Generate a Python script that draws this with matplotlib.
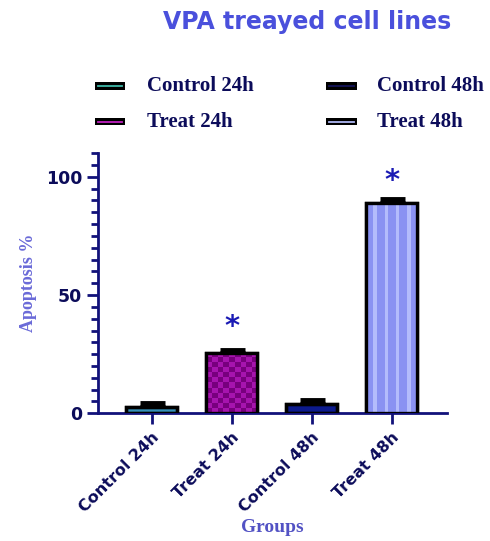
import numpy as np
import matplotlib
matplotlib.use("Agg")
import matplotlib.pyplot as plt
from matplotlib.patches import Rectangle
from matplotlib.lines import Line2D
from matplotlib.colors import ListedColormap

groups = ["Control 24h", "Treat 24h", "Control 48h", "Treat 48h"]
means = [2.8, 25.5, 4.0, 89.0]
errs = [1.6, 1.2, 1.6, 1.4]
stars = ["", "*", "", "*"]
star_y = [0, 36.5, 0, 98]

NAVY = "#12127a"
TXT = "#0c0c5a"
fills = ["#3590b8", "#a010a8", "#0c1a8c", "#8a92f2"]
legend_cols = ["#40b8a8", "#c020c0", "#14145a", "#b0b8f4"]

fig = plt.figure(figsize=(4.9, 5.41), dpi=100)
ax = fig.add_axes([0.2, 0.236, 0.712, 0.481])

x = np.arange(len(groups))
bw = 0.64
bars = ax.bar(x, means, width=bw, color=fills, edgecolor="black",
              linewidth=2.4, zorder=3)

# checkerboard on Treat 24h
b = bars[1]
x0, y0, w, h = b.get_x(), b.get_y(), b.get_width(), b.get_height()
chk = np.indices((12, 9)).sum(axis=0) % 2
im = ax.imshow(chk, cmap=ListedColormap(["#a614ae", "#78007e"]),
               extent=(x0, x0 + w, y0, y0 + h), aspect="auto",
               interpolation="nearest", zorder=3.5)
im.set_clip_path(b)

# vertical stripes on Treat 48h
b = bars[3]
x0, y0, w, h = b.get_x(), b.get_y(), b.get_width(), b.get_height()
stripes = np.array([[0, 0, 1, 0, 0, 1, 0, 0, 1, 0, 0, 1, 0, 0]])
im2 = ax.imshow(stripes, cmap=ListedColormap(["#8a92f2", "#b4bcfc"]),
                extent=(x0, x0 + w, y0, y0 + h), aspect="auto",
                interpolation="nearest", zorder=3.5)
im2.set_clip_path(b)

# redraw outlines on top
ax.bar(x, means, width=bw, facecolor="none", edgecolor="black",
       linewidth=2.4, zorder=4)

ax.errorbar(x, means, yerr=[np.zeros(len(errs)), errs], fmt="none",
            ecolor="black", elinewidth=2.2, capsize=9, capthick=3.5, zorder=2)

for xi, s, sy in zip(x, stars, star_y):
    if s:
        ax.text(xi, sy, s, ha="center", va="center", fontsize=21,
                fontweight="bold", color="#1a1ab4")

ax.set_xlim(-0.67, 3.69)
ax.set_ylim(0, 110)
ax.set_yticks([0, 50, 100])
ax.set_yticks(np.arange(0, 111, 5), minor=True)
ax.set_xticks(x)
ax.set_xticklabels(groups, rotation=45, ha="right", rotation_mode="anchor",
                   fontsize=11.5, fontweight="bold", color=TXT)
for lab in ax.get_yticklabels():
    lab.set_fontsize(12.5)
    lab.set_fontweight("bold")
    lab.set_color(TXT)

for sp in ["top", "right"]:
    ax.spines[sp].set_visible(False)
for sp in ["left", "bottom"]:
    ax.spines[sp].set_color(NAVY)
    ax.spines[sp].set_linewidth(2)
ax.tick_params(axis="both", which="major", color=NAVY, width=2, length=8)
ax.tick_params(axis="y", which="minor", color=NAVY, width=2, length=5)
ax.tick_params(axis="x", which="minor", bottom=False)

ax.set_ylabel("Apoptosis %", family="Liberation Serif", fontsize=13,
              fontweight="bold", color="#6a6ad8")
ax.yaxis.set_label_coords(-0.175, 0.5)
ax.set_xlabel("Groups", family="Liberation Serif", fontsize=14,
              fontweight="bold", color="#5252c4", va="center")
ax.xaxis.set_label_coords(0.5, -0.437)

fig.text(0.627, 0.96, "VPA treayed cell lines", ha="center", va="center",
         fontsize=17, fontweight="bold", color="#4a50dc")

# legend (2 x 2)
leg_x = [(95, 125, 147), (326, 357, 377)]
leg_y = [86, 122]
order = [(0, 0, 0), (2, 0, 1), (1, 1, 0), (3, 1, 1)]
W, H = 490.0, 541.0
for gi, r, c in order:
    hx0, hx1, tx = leg_x[c]
    yy = leg_y[r]
    fig.add_artist(Rectangle((hx0 / W, 1 - (yy + 3.5) / H), (hx1 - hx0) / W,
                             7 / H, transform=fig.transFigure,
                             facecolor="black", edgecolor="none"))
    fig.add_artist(Line2D([(hx0 + 3) / W, (hx1 - 3) / W],
                          [1 - yy / H, 1 - yy / H], transform=fig.transFigure,
                          color=legend_cols[gi], linewidth=1.3))
    fig.text(tx / W, 1 - yy / H, groups[gi], ha="left", va="center",
             family="Liberation Serif", fontsize=15, fontweight="bold",
             color=TXT)

fig.savefig("out.png", dpi=100, facecolor="white")
